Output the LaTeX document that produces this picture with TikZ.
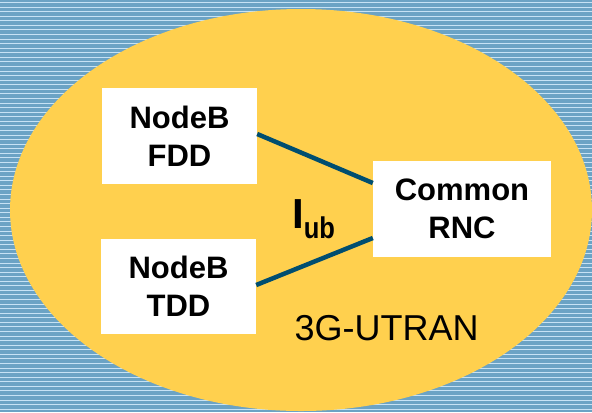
\documentclass[tikz,border=0pt]{standalone}
\usepackage{fontspec}
\setmainfont{Liberation Sans}
\usetikzlibrary{calc}
\definecolor{seablue}{HTML}{6BA3C5}
\definecolor{stripe}{HTML}{C6E2F5}
\definecolor{sunny}{HTML}{FFD04E}
\definecolor{linkteal}{HTML}{004E70}
\tikzset{
  nodebox/.style={fill=white, inner sep=0pt, align=center,
    font=\fontsize{31bp}{38bp}\selectfont\bfseries},
  iface/.style={draw=linkteal, line width=4.5bp},
}
\begin{document}
\begin{tikzpicture}[x=1bp,y=-1bp]
  \useasboundingbox (0,0) rectangle (592,412);
  % striped backdrop
  \fill[seablue] (0,0) rectangle (592,412);
  \foreach \i in {0,...,89}
    \fill[stripe] (0,{2+\i*4.57}) rectangle (592,{3+\i*4.57});
  % UTRAN area
  \fill[sunny] (301,210) ellipse [x radius=291, y radius=201];
  % network elements
  \node[nodebox, minimum width=155bp, minimum height=96bp] (fdd) at (179.5,136) {NodeB\\FDD};
  \node[nodebox, minimum width=155bp, minimum height=95bp] (tdd) at (178.5,286.5) {NodeB\\TDD};
  \node[nodebox, minimum width=178bp, minimum height=96bp] (rnc) at (462,209) {Common\\RNC};
  % Iub links
  \draw[iface] ([yshift=2bp]fdd.east) -- ([yshift=26bp]rnc.west);
  \draw[iface] ([yshift=1.5bp]tdd.east) -- ([yshift=-29bp]rnc.west);
  % labels
  \node[anchor=base west, inner sep=0pt] (iub) at (292,228)
    {\fontsize{42bp}{42bp}\selectfont\bfseries I\raisebox{-10bp}{\scalebox{0.85}[1]{\fontsize{30bp}{30bp}\selectfont\bfseries ub}}};
  \node[anchor=base west, inner sep=0pt] (utran) at (294.5,340)
    {\fontsize{36bp}{36bp}\selectfont 3G-UTRAN};
\end{tikzpicture}
\end{document}
